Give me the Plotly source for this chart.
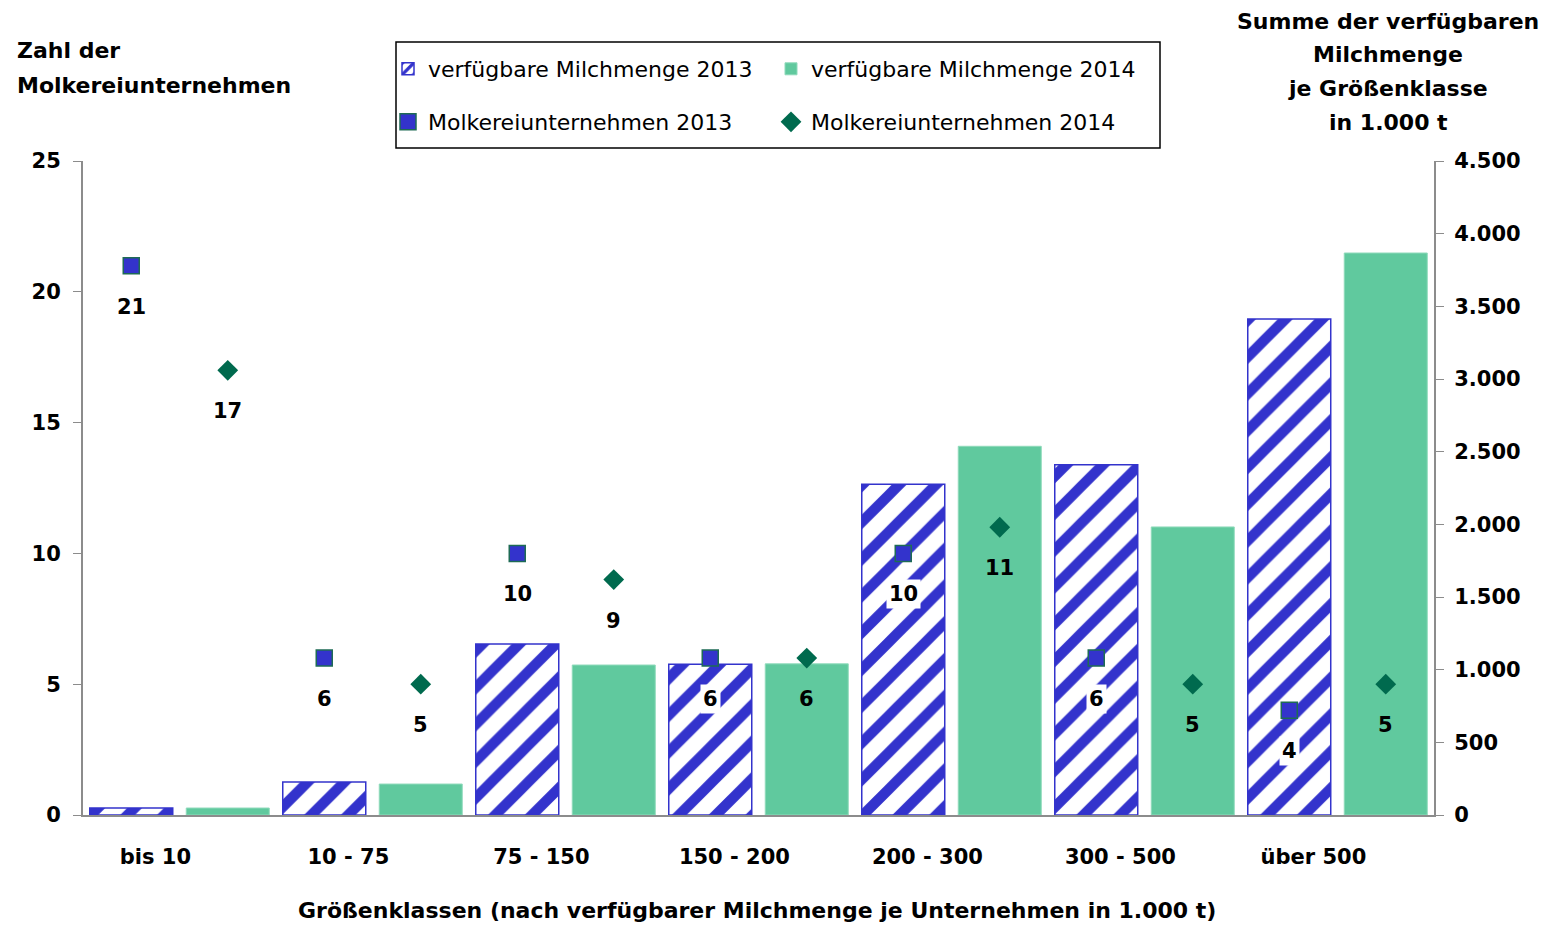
import plotly.graph_objects as go
import numpy as np

categories = ["bis 10", "10 - 75", "75 - 150", "150 - 200", "200 - 300", "300 - 500", "über 500"]
milk_2013 = [48, 227, 1177, 1037, 2275, 2410, 3413]
milk_2014 = [48, 213, 1032, 1040, 2537, 1982, 3867]
dairies_2013 = [21, 6, 10, 6, 10, 6, 4]
dairies_2014 = [17, 5, 9, 6, 11, 5, 5]

W, H = 1550, 925
L, R, T, B = 83, 1434, 161, 815
FONT = "DejaVu Sans"
BLUE = "#3333CC"
GREEN = "#60C99E"
DKGREEN = "#006A4E"
AXIS = "#8C8C8C"

def px2x(px):
    return (px - L) / (R - L)

def py2y(py):
    return (B - py) / (B - T)

idx = np.arange(len(categories))
OFF = 0.25

fig = go.Figure()
fig.add_trace(go.Bar(
    x=idx, y=milk_2013, name="verfügbare Milchmenge 2013", offsetgroup="a",
    yaxis="y", legend="legend",
    marker=dict(color="white", line=dict(color=BLUE, width=1.5),
                pattern=dict(shape="/", fgcolor=BLUE, bgcolor="white", size=26, solidity=0.4, fillmode="replace")),
))
fig.add_trace(go.Bar(
    x=idx, y=milk_2014, name="verfügbare Milchmenge 2014", offsetgroup="b",
    yaxis="y", legend="legend",
    marker=dict(color=GREEN, line=dict(color="#8FDABB", width=1)),
))
fig.add_trace(go.Scatter(
    x=idx - OFF, y=dairies_2013, name="Molkereiunternehmen 2013", mode="markers",
    yaxis="y2", legend="legend2",
    marker=dict(symbol="square", size=16, color=BLUE, line=dict(color="#1E6B55", width=1.5)),
))
fig.add_trace(go.Scatter(
    x=idx + OFF, y=dairies_2014, name="Molkereiunternehmen 2014", mode="markers",
    yaxis="y2", legend="legend2",
    marker=dict(symbol="diamond", size=16, color=DKGREEN, line=dict(width=0)),
))

lblfont = dict(family=FONT, size=21, color="black", weight="bold")
annotations = []
for i, v in enumerate(dairies_2013):
    annotations.append(dict(x=i - OFF, y=v, xref="x", yref="y2", text=str(v), showarrow=False,
                            yshift=-41, bgcolor="white", borderpad=2, font=lblfont))
for i, v in enumerate(dairies_2014):
    annotations.append(dict(x=i + OFF, y=v, xref="x", yref="y2", text=str(v), showarrow=False,
                            yshift=-41, font=lblfont))

tfont = dict(family=FONT, size=22, color="black", weight="bold")
for txt, py in [("Zahl der", 51), ("Molkereiunternehmen", 86)]:
    annotations.append(dict(x=px2x(15), y=py2y(py), xref="paper", yref="paper", text=txt,
                            showarrow=False, xanchor="left", yanchor="middle", font=tfont))
for txt, py in [("Summe der verfügbaren", 21), ("Milchmenge", 54), ("je Größenklasse", 88), ("in 1.000 t", 122)]:
    annotations.append(dict(x=px2x(1388), y=py2y(py), xref="paper", yref="paper", text=txt,
                            showarrow=False, xanchor="center", yanchor="middle", font=tfont))
annotations.append(dict(x=px2x(757), y=py2y(910), xref="paper", yref="paper",
                        text="Größenklassen (nach verfügbarer Milchmenge je Unternehmen in 1.000 t)",
                        showarrow=False, xanchor="center", yanchor="middle", font=tfont))

legfont = dict(family=FONT, size=22, color="black")
fig.update_layout(
    width=W, height=H,
    margin=dict(l=L, r=W - R, t=T, b=H - B, autoexpand=False),
    paper_bgcolor="white", plot_bgcolor="white",
    separators=",.",
    barmode="group", bargap=0, bargroupgap=0.14,
    font=dict(family=FONT, color="black"),
    xaxis=dict(range=[-0.5, len(categories) - 0.5], tickvals=idx - 0.125, ticktext=categories,
               showgrid=False, zeroline=False, showline=True, linecolor=AXIS, linewidth=2,
               ticks="", ticklabelstandoff=22,
               tickfont=dict(family=FONT, size=21, color="black", weight="bold")),
    yaxis=dict(range=[0, 4500], dtick=500, side="right", tickformat=",.0f",
               showgrid=False, zeroline=False, showline=True, linecolor=AXIS, linewidth=2,
               ticks="outside", ticklen=8, tickcolor=AXIS, tickwidth=1, ticklabelstandoff=6,
               tickfont=dict(family=FONT, size=21, color="black", weight="bold")),
    yaxis2=dict(range=[0, 25], dtick=5, side="left", overlaying="y",
                showgrid=False, zeroline=False, showline=True, linecolor=AXIS, linewidth=2,
                ticks="outside", ticklen=8, tickcolor=AXIS, tickwidth=1, ticklabelstandoff=8,
                tickfont=dict(family=FONT, size=21, color="black", weight="bold")),
    legend=dict(orientation="h", x=px2x(388), y=py2y(69), xanchor="left", yanchor="middle",
                entrywidth=338, itemwidth=30, font=legfont, bgcolor="rgba(0,0,0,0)", borderwidth=0,
                traceorder="normal"),
    legend2=dict(orientation="h", x=px2x(388), y=py2y(122), xanchor="left", yanchor="middle",
                 entrywidth=338, itemwidth=30, font=legfont, bgcolor="rgba(0,0,0,0)", borderwidth=0,
                 traceorder="normal"),
    annotations=annotations,
    shapes=[dict(type="rect", xref="paper", yref="paper",
                 x0=px2x(396), x1=px2x(1160), y0=py2y(148), y1=py2y(42),
                 line=dict(color="black", width=1.5), fillcolor="rgba(0,0,0,0)")],
    showlegend=True,
)

fig.write_html("out.html", config={"displayModeBar": False},
               post_script="document.body.style.margin='0';")
